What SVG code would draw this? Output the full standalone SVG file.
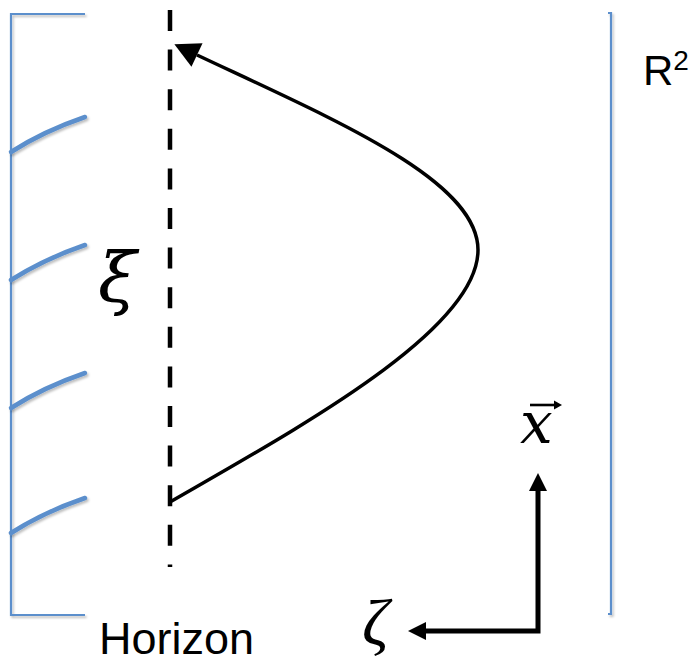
<svg xmlns="http://www.w3.org/2000/svg" width="696" height="663" viewBox="0 0 696 663">
  <defs>
    <style>
      .frame { fill: none; stroke: #5b8fcc; stroke-width: 2.2; }
      .wave { fill: none; stroke: #5b8fcc; stroke-width: 4.5; stroke-linecap: round; }
      .horizon { fill: none; stroke: #000; stroke-width: 4.5; stroke-dasharray: 21 18.6; }
      .curve { fill: none; stroke: #000; stroke-width: 3.5; }
      .axis { fill: none; stroke: #000; stroke-width: 5; }
      .accent { fill: none; stroke: #000; stroke-width: 2.6; }
      .math { font-family: "DejaVu Serif", "Liberation Serif", serif; font-style: italic; fill: #000; }
      .math2 { font-family: "Liberation Serif", "DejaVu Serif", serif; font-style: italic; fill: #000; }
      .label { font-family: "Liberation Sans", Arial, sans-serif; fill: #000; }
      .sup { font-size: 28px; }
    </style>
    <filter id="shadow" x="-10%" y="-10%" width="130%" height="130%">
      <feDropShadow dx="1.5" dy="2" stdDeviation="1.2" flood-color="#000" flood-opacity="0.25"/>
    </filter>
    <marker id="bigHead" markerUnits="userSpaceOnUse" markerWidth="30" markerHeight="30" viewBox="0 -15 30 15" refX="0" refY="0" orient="auto" overflow="visible">
      <path d="M0,-13 L25,0 L0,13 Z" fill="#000"/>
    </marker>
    <marker id="axisHead" markerUnits="userSpaceOnUse" markerWidth="20" markerHeight="20" viewBox="0 -10 20 10" refX="0" refY="0" orient="auto-start-reverse" overflow="visible">
      <path d="M-1,-9 L17,0 L-1,9 Z" fill="#000"/>
    </marker>
    <marker id="accentHead" markerUnits="userSpaceOnUse" markerWidth="10" markerHeight="10" viewBox="0 -5 10 5" refX="0" refY="0" orient="auto" overflow="visible">
      <path d="M-1,-4.5 L7,0 L-1,4.5 Z" fill="#000"/>
    </marker>
  </defs>
  <rect width="696" height="663" fill="#fff"/>

  <g id="region-frame" filter="url(#shadow)">
    <path class="frame" d="M85,14 H11 V615 H85"/>
    <path class="frame" d="M608,13 H611 V614 H608"/>
  </g>

  <g id="waves" filter="url(#shadow)">
    <path class="wave" d="M11,152 Q44,131 85,117"/>
    <path class="wave" d="M11,280 Q44,259 85,245"/>
    <path class="wave" d="M11,408 Q44,387 85,373"/>
    <path class="wave" d="M11,533 Q44,512 85,498"/>
  </g>

  <g id="horizon-line">
    <line class="horizon" x1="170" y1="10" x2="170" y2="567"/>
  </g>

  <g id="connectors">
    <path id="trajectory" class="curve" d="M170,502 C300,427 478,330 478,250 C478,180 335,120 197,55" marker-end="url(#bigHead)"/>
    <path id="axes" class="axis" d="M538,490 V631 H425" marker-start="url(#axisHead)" marker-end="url(#axisHead)"/>
  </g>

  <g id="label-xi">
    <text class="math" x="98" y="302" font-size="70">ξ</text>
  </g>
  <g id="label-x">
    <text class="math" x="520" y="443" font-size="58">x</text>
    <path class="accent" d="M530,405 H555" marker-end="url(#accentHead)"/>
  </g>
  <g id="label-zeta">
    <text class="math2" x="362" y="645" font-size="66">ζ</text>
  </g>
  <g id="label-R2">
    <text class="label" x="643" y="85" font-size="42">R<tspan class="sup" dy="-15">2</tspan></text>
  </g>
  <g id="label-horizon">
    <text class="label" x="99" y="654" font-size="45" fill="#1a1a1a">Horizon</text>
  </g>
</svg>
